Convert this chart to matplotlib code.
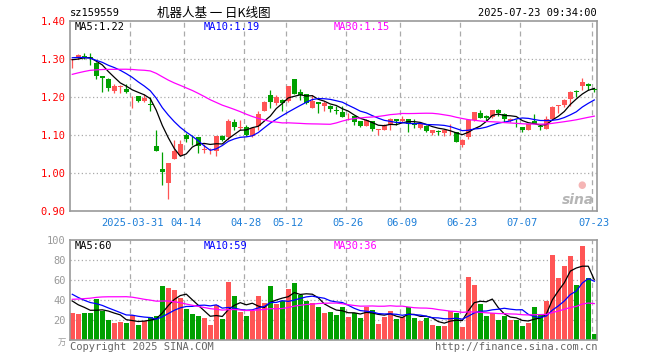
import numpy as np
import pandas as pd
import matplotlib
matplotlib.use("Agg")
import matplotlib.pyplot as plt

# daily candles 2025-03-17 .. 2025-07-23 (88 trading days)
opens = [1.297, 1.301, 1.308, 1.305, 1.288, 1.254, 1.247, 1.215, 1.226, 1.222,
         1.199, 1.202, 1.190, 1.181, 1.070, 1.011, 0.975, 1.038, 1.047, 1.101,
         1.093, 1.095, 1.062, 1.063, 1.059, 1.098, 1.096, 1.135, 1.119, 1.121,
         1.097, 1.125, 1.164, 1.206, 1.184, 1.193, 1.189, 1.248, 1.212, 1.208,
         1.171, 1.186, 1.175, 1.177, 1.165, 1.160, 1.149, 1.151, 1.136, 1.125,
         1.136, 1.112, 1.114, 1.127, 1.142, 1.138, 1.142, 1.129, 1.118, 1.125,
         1.105, 1.110, 1.105, 1.110, 1.107, 1.075, 1.095, 1.140, 1.158, 1.149,
         1.147, 1.167, 1.156, 1.137, 1.135, 1.121, 1.114, 1.136, 1.122, 1.116,
         1.142, 1.175, 1.180, 1.195, 1.215, 1.228, 1.235, 1.221]
highs = [1.300, 1.313, 1.314, 1.314, 1.292, 1.254, 1.250, 1.235, 1.232, 1.234,
         1.203, 1.202, 1.209, 1.199, 1.114, 1.056, 1.028, 1.088, 1.088, 1.105,
         1.101, 1.095, 1.077, 1.065, 1.098, 1.100, 1.142, 1.142, 1.140, 1.127,
         1.121, 1.162, 1.190, 1.217, 1.204, 1.195, 1.230, 1.248, 1.221, 1.208,
         1.204, 1.187, 1.189, 1.178, 1.175, 1.176, 1.157, 1.151, 1.137, 1.143,
         1.138, 1.116, 1.130, 1.145, 1.143, 1.151, 1.143, 1.142, 1.135, 1.126,
         1.114, 1.114, 1.116, 1.128, 1.108, 1.090, 1.141, 1.161, 1.167, 1.153,
         1.167, 1.168, 1.157, 1.144, 1.141, 1.122, 1.130, 1.156, 1.127, 1.151,
         1.176, 1.180, 1.194, 1.215, 1.218, 1.250, 1.237, 1.224]
lows = [1.276, 1.299, 1.299, 1.285, 1.247, 1.212, 1.215, 1.210, 1.210, 1.210,
        1.170, 1.186, 1.186, 1.162, 1.057, 0.970, 0.932, 1.037, 1.045, 1.083,
        1.075, 1.053, 1.053, 1.050, 1.046, 1.085, 1.087, 1.112, 1.112, 1.097,
        1.095, 1.114, 1.162, 1.171, 1.180, 1.162, 1.187, 1.208, 1.193, 1.182,
        1.171, 1.158, 1.162, 1.160, 1.156, 1.147, 1.140, 1.127, 1.122, 1.124,
        1.110, 1.101, 1.112, 1.112, 1.127, 1.135, 1.107, 1.118, 1.116, 1.107,
        1.099, 1.101, 1.097, 1.101, 1.081, 1.068, 1.090, 1.137, 1.144, 1.136,
        1.145, 1.150, 1.133, 1.135, 1.121, 1.107, 1.112, 1.135, 1.114, 1.116,
        1.140, 1.159, 1.174, 1.175, 1.200, 1.219, 1.218, 1.212]
closes = [1.298, 1.309, 1.306, 1.302, 1.254, 1.249, 1.223, 1.230, 1.228, 1.212,
          1.200, 1.190, 1.198, 1.178, 1.059, 1.002, 1.028, 1.057, 1.077, 1.089,
          1.091, 1.070, 1.063, 1.064, 1.098, 1.088, 1.138, 1.120, 1.120, 1.101,
          1.118, 1.156, 1.188, 1.186, 1.200, 1.184, 1.230, 1.208, 1.206, 1.184,
          1.189, 1.182, 1.184, 1.169, 1.164, 1.147, 1.150, 1.133, 1.125, 1.140,
          1.116, 1.115, 1.127, 1.142, 1.136, 1.141, 1.130, 1.127, 1.132, 1.110,
          1.112, 1.109, 1.114, 1.111, 1.083, 1.088, 1.140, 1.161, 1.146, 1.144,
          1.167, 1.158, 1.142, 1.142, 1.134, 1.114, 1.130, 1.130, 1.121, 1.142,
          1.174, 1.179, 1.193, 1.213, 1.214, 1.239, 1.228, 1.218]
# volume in 万手
volumes = [27.3, 26, 27.3, 27.3, 41, 29.3, 20, 17, 18.3, 17,
           25, 15, 19.3, 22.7, 24, 54, 52, 50, 42.3, 31,
           26, 24.3, 22.3, 15, 34.7, 21.3, 58.3, 44, 28.3, 24,
           29.3, 44, 36.7, 54, 36, 38.7, 51, 57.3, 44.7, 39.3,
           36.7, 33, 27, 28, 25, 33.3, 23, 26.7, 22, 33.3,
           30, 16, 23, 29, 21, 23.3, 32.7, 22, 19, 22,
           15, 14, 14.3, 29, 26.7, 13, 63, 55, 36, 24,
           26.7, 20, 24, 20, 20, 14, 17, 33, 26, 39.3,
           85, 62, 74, 84, 55, 94, 62, 6]

# sessions before the window, only needed for the moving averages (estimated)
hist_close = [1.19, 1.20, 1.21, 1.22, 1.22, 1.21, 1.23, 1.22, 1.21, 1.22,
              1.23, 1.22, 1.23, 1.25, 1.27, 1.29, 1.28, 1.27, 1.29, 1.29,
              1.30, 1.31, 1.32, 1.31, 1.30, 1.30, 1.29, 1.30, 1.30]
hist_vol = [18, 15, 14, 17, 16, 15, 17, 18, 15, 40,
            45, 52, 48, 55, 50, 51, 75, 68, 72, 63,
            58, 55, 50, 52, 47, 45, 40, 42, 40.7]

tick_idx = [10, 19, 29, 36, 46, 55, 65, 75, 87]
tick_labels = ["2025-03-31", "04-14", "04-28", "05-12", "05-26",
               "06-09", "06-23", "07-07", "07-23"]

UP = "#ff5555"
DOWN = "#00a000"
GRID = "#aaaaaa"
MONO = "DejaVu Sans Mono"
CJK = ["Noto Sans CJK SC", "DejaVu Sans"]

n = len(closes)
x = np.arange(n)
h = len(hist_close)

close_all = pd.Series(hist_close + closes)
vol_all = pd.Series(hist_vol + volumes)
ma_price = {p: close_all.rolling(p).mean().values[h:] for p in (5, 10, 30)}
ma_vol = {p: vol_all.rolling(p).mean().values[h:] for p in (5, 10, 30)}
ma_colors = {5: "black", 10: "#0000ff", 30: "#ff00ff"}

up = np.array(closes) >= np.array(opens)
colors = np.where(up, UP, DOWN)

W, H = 660, 360
fig = plt.figure(figsize=(W / 100, H / 100), dpi=100)


def px(xp, yp):
    return xp / W, 1 - yp / H


ax = fig.add_axes([70 / W, 1 - 211.3 / H, 527 / W, 190.6 / H])
axv = fig.add_axes([70 / W, 1 - 340 / H, 527 / W, 100 / H])

for a in (ax, axv):
    a.set_xlim(-0.38, 87.45)
    for s in a.spines.values():
        s.set_color("#999999")
        s.set_linewidth(1.2)
    a.tick_params(length=0)
    for t in tick_idx:
        a.axvline(t - 0.35, color=GRID, lw=0.9, ls=(0, (4, 3)), zorder=0)

# price panel
ax.set_ylim(0.90, 1.40)
ax.set_yticks([0.9, 1.0, 1.1, 1.2, 1.3, 1.4])
ax.set_yticklabels(["0.90", "1.00", "1.10", "1.20", "1.30", "1.40"],
                   color="#ff0000", family=MONO, fontsize=7.5)
ax.tick_params(axis="y", pad=3)
for yv in [1.0, 1.1, 1.2, 1.3]:
    ax.axhline(yv, color=GRID, lw=0.9, ls=(0, (1, 2)), zorder=0)

ax.vlines(x, lows, highs, colors=colors, lw=0.9, zorder=2)
body = np.maximum(np.abs(np.array(closes) - np.array(opens)), 0.0015)
ax.bar(x, body, bottom=np.minimum(opens, closes), width=0.8, color=colors, zorder=3)
for p in (5, 10, 30):
    ax.plot(x, ma_price[p], color=ma_colors[p], lw=0.9, zorder=4)

ax.set_xticks(tick_idx)
ax.set_xticklabels(tick_labels, color="#1e7fd8", family=MONO, fontsize=7.5)
ax.tick_params(axis="x", pad=5)

# volume panel
axv.set_ylim(0, 100)
axv.set_yticks([20, 40, 60, 80, 100])
axv.set_yticklabels(["20", "40", "60", "80", "100"], color="#999999",
                    family=MONO, fontsize=7.5)
axv.tick_params(axis="y", pad=3)
axv.set_xticks([])
for yv in [20, 40, 60, 80]:
    axv.axhline(yv, color=GRID, lw=0.9, ls=(0, (1, 2)), zorder=0)
axv.bar(x, volumes, width=0.8, color=colors, zorder=2)
for p in (5, 10, 30):
    axv.plot(x, ma_vol[p], color=ma_colors[p], lw=0.9, zorder=4)

# MA labels
ma_x = {5: 75, 10: 204, 30: 334}
for p in (5, 10, 30):
    fig.text(*px(ma_x[p], 26.5), f"MA{p}:{ma_price[p][-1]:.2f}", color=ma_colors[p],
             family=MONO, fontsize=7.5, va="center")
    fig.text(*px(ma_x[p], 246), f"MA{p}:{ma_vol[p][-1]:.0f}", color=ma_colors[p],
             family=MONO, fontsize=7.5, va="center")

# header / footer
fig.text(*px(70, 13), "sz159559", family=MONO, fontsize=7.5, va="center")
fig.text(*px(214, 13), "机器人基 一 日K线图", family=CJK,
         fontsize=9, va="center", ha="center")
fig.text(*px(597, 13), "2025-07-23 09:34:00", family=MONO, fontsize=7.5,
         va="center", ha="right")
fig.text(*px(66, 342), "万", family=CJK, fontsize=6, color="#999999",
         va="center", ha="right")
fig.text(*px(70, 347), "Copyright 2025 SINA.COM", family=MONO, fontsize=7.5,
         color="#666666", va="center")
fig.text(*px(597, 347), "http://finance.sina.com.cn", family=MONO, fontsize=7.5,
         color="#666666", va="center", ha="right")

# sina watermark
fig.text(*px(582, 185), "●", fontsize=7, color="#f5b5b5", va="center", ha="center")
fig.text(*px(578, 200), "sina", fontsize=10, fontweight="bold", style="italic",
         color="#b5b5b5", va="center", ha="center")

fig.savefig("out.png", dpi=100)
